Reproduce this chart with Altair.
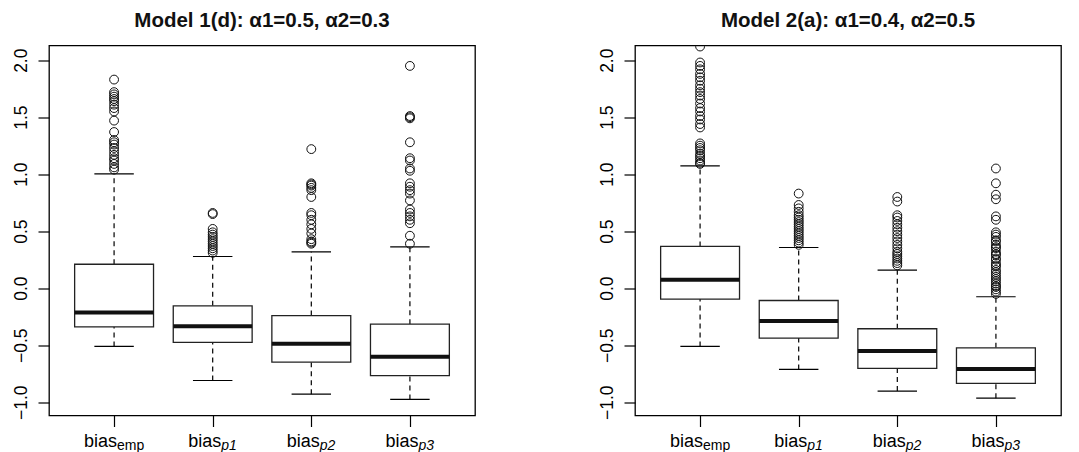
import altair as alt
import pandas as pd

FONT = "Liberation Sans"

CATS = [1, 2, 3, 4]
SUBS = ["emp", "p1", "p2", "p3"]

# ---- Panel 1: Model 1(d)
TITLE1 = "Model 1(d): α1=0.5, α2=0.3"
Q1_1 = [-0.339, -0.476, -0.649, -0.768]
MED_1 = [-0.213, -0.333, -0.488, -0.602]
Q3_1 = [0.210, -0.155, -0.240, -0.316]
LO_1 = [-0.511, -0.810, -0.930, -0.976]
HI_1 = [1.003, 0.278, 0.319, 0.363]
OUT1_emp = [1.83, 1.72, 1.70, 1.68, 1.66, 1.64, 1.61, 1.58, 1.55, 1.47, 1.37,
            1.30, 1.28, 1.26, 1.23, 1.20, 1.17, 1.14, 1.12, 1.09, 1.06, 1.04]
OUT1_p1 = [0.66, 0.65, 0.52, 0.49, 0.47, 0.45, 0.43, 0.41, 0.39, 0.37, 0.35, 0.33, 0.31]
OUT1_p2 = [1.22, 0.92, 0.91, 0.90, 0.88, 0.86, 0.80, 0.66, 0.64, 0.60, 0.56,
           0.52, 0.48, 0.43, 0.41, 0.40, 0.39]
OUT1_p3 = [1.95, 1.51, 1.50, 1.49, 1.28, 1.14, 1.12, 1.05, 1.03, 0.92, 0.89,
           0.86, 0.83, 0.77, 0.69, 0.66, 0.63, 0.60, 0.57, 0.46, 0.39]

# ---- Panel 2: Model 2(a)
TITLE2 = "Model 2(a): α1=0.4, α2=0.5"
Q1_2 = [-0.096, -0.438, -0.704, -0.836]
MED_2 = [0.073, -0.289, -0.552, -0.710]
Q3_2 = [0.366, -0.108, -0.356, -0.523]
LO_2 = [-0.511, -0.713, -0.903, -0.965]
HI_2 = [1.073, 0.357, 0.158, -0.075]
OUT2_emp = [2.12, 1.98, 1.95, 1.92, 1.88, 1.85, 1.82, 1.78, 1.75, 1.72, 1.69,
            1.66, 1.62, 1.58, 1.55, 1.51, 1.48, 1.44, 1.41, 1.27, 1.25, 1.23,
            1.21, 1.18, 1.16, 1.14, 1.12, 1.10, 1.09]
OUT2_p1 = [0.83, 0.73, 0.70, 0.67, 0.64, 0.62, 0.60, 0.58, 0.56, 0.54, 0.52,
           0.50, 0.48, 0.46, 0.44, 0.42, 0.40, 0.38]
OUT2_p2 = [0.80, 0.76, 0.64, 0.62, 0.59, 0.56, 0.53, 0.50, 0.47, 0.44, 0.41,
           0.38, 0.35, 0.32, 0.30, 0.28, 0.26, 0.24, 0.22, 0.20]
OUT2_p3 = [1.05, 0.92, 0.82, 0.78, 0.63, 0.60, 0.49, 0.47, 0.45, 0.42, 0.41,
           0.38, 0.36, 0.35, 0.32, 0.30, 0.29, 0.26, 0.25, 0.22, 0.20, 0.19,
           0.16, 0.14, 0.12, 0.10, 0.08, 0.06, 0.04, 0.02, 0.01, -0.01, -0.03, -0.05]

YTICKS = [-1.0, -0.5, 0.0, 0.5, 1.0, 1.5, 2.0]

W, H = 426, 370

xs = alt.Scale(domain=[0.34, 4.66], nice=False, zero=False)
ys = alt.Scale(domain=[-1.117, 2.129], nice=False, zero=False)
x_axis = alt.Axis(values=CATS, labels=False, tickSize=11, tickWidth=1.2,
                  tickColor="black", domain=False, grid=False, title=None)
y_axis = alt.Axis(values=YTICKS, format=".1f", labelAngle=-90, labelAlign="center",
                  labelBaseline="alphabetic", labelPadding=12, labelFontSize=17.5,
                  labelColor="black", labelFont=FONT, tickSize=11, tickWidth=1.2,
                  tickColor="black", domain=False, grid=False, title=None,
                  minExtent=40, maxExtent=40)


def X(field):
    return alt.X(field, type="quantitative", scale=xs, axis=x_axis)


def Y(field):
    return alt.Y(field, type="quantitative", scale=ys, axis=y_axis)


def panel(title, q1, med, q3, lo, hi, outs):
    box_df = pd.DataFrame({"cat": CATS, "q1": q1, "med": med, "q3": q3,
                           "lo": lo, "hi": hi})
    cats, vals = [], []
    for c, lst in zip(CATS, outs):
        cats += [c] * len(lst)
        vals += lst
    out_df = pd.DataFrame({"cat": cats, "v": vals})
    lab_df = pd.DataFrame({"cat": CATS, "main": ["bias"] * 4, "sub": SUBS})

    base = alt.Chart(box_df).transform_calculate(
        bl="datum.cat - 0.4", br="datum.cat + 0.4",
        cl="datum.cat - 0.2", cr="datum.cat + 0.2")

    wu = base.mark_rule(strokeDash=[5, 4], strokeWidth=1.2, color="black").encode(
        x=X("cat"), y=Y("q3"), y2="hi")
    wl = base.mark_rule(strokeDash=[5, 4], strokeWidth=1.2, color="black").encode(
        x=X("cat"), y=Y("lo"), y2="q1")
    cu = base.mark_rule(strokeWidth=1.2, color="black").encode(
        x=X("cl"), x2="cr", y=Y("hi"))
    cl = base.mark_rule(strokeWidth=1.2, color="black").encode(
        x=X("cl"), x2="cr", y=Y("lo"))
    box = base.mark_rect(fill="white", stroke="#222222", strokeWidth=1.3).encode(
        x=X("bl"), x2="br", y=Y("q1"), y2="q3")
    md = base.mark_rule(strokeWidth=4, color="#111111").encode(
        x=X("bl"), x2="br", y=Y("med"))
    pts = alt.Chart(out_df).mark_point(shape="circle", size=78, filled=False,
                                       stroke="#111111", strokeWidth=1,
                                       opacity=1, clip=True).encode(
        x=X("cat"), y=Y("v"))

    lab = alt.Chart(lab_df)
    main_emp = lab.transform_filter("datum.cat == 1").mark_text(
        align="right", baseline="alphabetic", fontSize=18, font=FONT,
        color="black", dx=3).encode(x=X("cat"), y=alt.value(401), text="main:N")
    sub_emp = lab.transform_filter("datum.cat == 1").mark_text(
        align="left", baseline="alphabetic", fontSize=14, font=FONT,
        color="black", dx=3).encode(x=X("cat"), y=alt.value(404.5), text="sub:N")
    main_p = lab.transform_filter("datum.cat > 1").mark_text(
        align="right", baseline="alphabetic", fontSize=18, font=FONT,
        color="black", dx=8.5).encode(x=X("cat"), y=alt.value(401), text="main:N")
    sub_p = lab.transform_filter("datum.cat > 1").mark_text(
        align="left", baseline="alphabetic", fontSize=14, font=FONT,
        fontStyle="italic", color="black", dx=8.5).encode(
        x=X("cat"), y=alt.value(404.5), text="sub:N")

    return alt.layer(wu, wl, cu, cl, box, md, pts, main_emp, sub_emp, main_p, sub_p).properties(
        width=W, height=H,
        title=alt.TitleParams(title, fontSize=20.5, fontWeight="bold", font=FONT,
                              anchor="middle", frame="group", offset=14,
                              color="#111111"))


p1 = panel(TITLE1, Q1_1, MED_1, Q3_1, LO_1, HI_1, [OUT1_emp, OUT1_p1, OUT1_p2, OUT1_p3])
p2 = panel(TITLE2, Q1_2, MED_2, Q3_2, LO_2, HI_2, [OUT2_emp, OUT2_p1, OUT2_p2, OUT2_p3])

chart = alt.hconcat(p1, p2, spacing=118).properties(
    padding={"left": 0, "top": 1.5, "right": 5, "bottom": 0},
    background="white",
).configure(font=FONT).configure_view(stroke="black", strokeWidth=1.3)

chart.save("out.html", embed_options={"renderer": "svg", "actions": False})
